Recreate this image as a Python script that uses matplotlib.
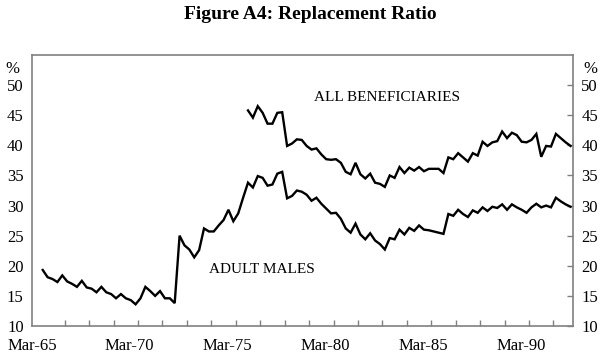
import matplotlib
matplotlib.use("Agg")
import matplotlib.pyplot as plt
import numpy as np

plt.rcParams['font.family'] = ['Liberation Serif', 'DejaVu Serif']

# quarterly data, Mar-65 .. Mar-92
adult_males = [
    19.3, 18.1, 17.8, 17.3, 18.4, 17.4, 17.0, 16.5, 17.5, 16.4,
    16.2, 15.6, 16.5, 15.6, 15.3, 14.6, 15.3, 14.6, 14.3, 13.6,
    14.6, 16.5, 15.8, 15.0, 15.8, 14.6, 14.6, 13.8, 25.0, 23.4,
    22.7, 21.4, 22.6, 26.2, 25.7, 25.7, 26.7, 27.6, 29.3, 27.4,
    28.7, 31.3, 33.8, 33.0, 34.9, 34.6, 33.3, 33.5, 35.3, 35.6,
    31.2, 31.6, 32.5, 32.3, 31.8, 30.8, 31.3, 30.3, 29.5, 28.7,
    28.8, 27.8, 26.2, 25.5, 27.0, 25.2, 24.4, 25.4, 24.2, 23.6,
    22.7, 24.6, 24.4, 26.0, 25.2, 26.3, 25.8, 26.7, 26.0, 25.9,
    25.7, 25.5, 25.3, 28.6, 28.3, 29.3, 28.6, 28.1, 29.2, 28.8,
    29.7, 29.1, 29.8, 29.6, 30.2, 29.3, 30.2, 29.7, 29.3, 28.8,
    29.7, 30.3, 29.7, 30.0, 29.7, 31.3, 30.7, 30.2, 29.8,
]

# all beneficiaries starts in Sep-75 (quarter 42)
all_start = 42
all_benef = [
    45.8, 44.6, 46.5, 45.4, 43.6, 43.6, 45.4, 45.5,
    39.9, 40.3, 41.0, 40.9, 39.9, 39.3, 39.5, 38.5, 37.7, 37.6,
    37.7, 37.1, 35.6, 35.2, 37.1, 35.2, 34.5, 35.3, 33.8, 33.6,
    33.1, 35.0, 34.6, 36.4, 35.4, 36.3, 35.8, 36.4, 35.7, 36.1,
    36.1, 36.1, 35.4, 38.0, 37.7, 38.7, 38.0, 37.3, 38.7, 38.3,
    40.6, 39.9, 40.5, 40.7, 42.3, 41.2, 42.1, 41.7, 40.6, 40.5,
    40.9, 41.9, 38.1, 39.9, 39.8, 41.9, 41.2, 40.5, 39.9,
]

year_labels = ['Mar-65', 'Mar-70', 'Mar-75', 'Mar-80', 'Mar-85', 'Mar-90']
y_ticks = [10, 15, 20, 25, 30, 35, 40, 45, 50]

x_males = np.arange(len(adult_males))
x_all = np.arange(all_start, all_start + len(all_benef))

fig = plt.figure(figsize=(6, 3.55), dpi=100)
ax = fig.add_axes([0.0533, 0.0817, 0.9017, 0.7633])

ax.plot(x_males, adult_males, color='black', lw=1.7, solid_joinstyle='miter')
ax.plot(x_all, all_benef, color='black', lw=1.7, solid_joinstyle='miter')

ax.set_xlim(-0.5, len(adult_males) - 0.5)
ax.set_ylim(10, 55)

# tick marks every 5 quarters, labels every 5 years
ax.set_xticks(np.arange(4.5, len(adult_males) - 1, 5))
ax.set_xticklabels([])
ax.set_xticks([20 * i - 2.2 for i in range(len(year_labels))], minor=True)
ax.set_xticklabels(year_labels, minor=True)
ax.tick_params(axis='x', which='major', direction='in', length=4, width=1,
               color='#808080', top=False)
ax.tick_params(axis='x', which='minor', length=0, pad=9, labelsize=12)

ax.set_yticks(y_ticks)
ax.tick_params(axis='y', which='major', direction='in', length=4, width=1,
               color='#808080', left=False, right=True,
               labelleft=True, labelright=True, labelsize=12, pad=6)

for s in ax.spines.values():
    s.set_color('#808080')
    s.set_linewidth(1.2)

ax.text(-0.05, 52.6, '%', transform=ax.get_yaxis_transform(), fontsize=12,
        ha='left', va='center')
ax.text(1.02, 52.6, '%', transform=ax.get_yaxis_transform(), fontsize=12,
        ha='left', va='center')

ax.text(55.6, 47.9, 'ALL BENEFICIARIES', fontsize=11, ha='left', va='center')
ax.text(34.0, 19.3, 'ADULT MALES', fontsize=11, ha='left', va='center')

fig.text(0.518, 0.96, 'Figure A4: Replacement Ratio', fontsize=14,
         fontweight='bold', ha='center', va='center')

fig.savefig('out.png', dpi=100)
